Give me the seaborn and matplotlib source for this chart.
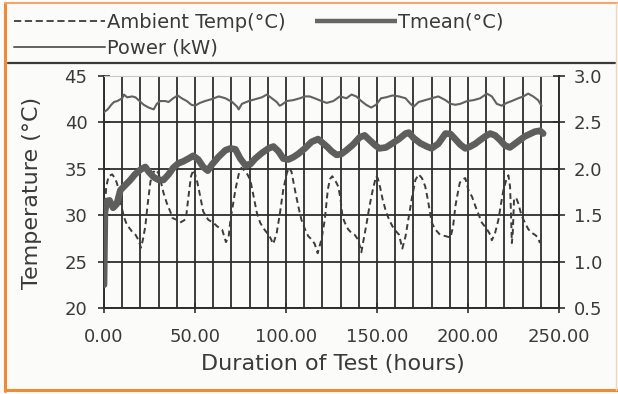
import matplotlib
matplotlib.use("Agg")
import matplotlib.pyplot as plt
from matplotlib.lines import Line2D
from matplotlib.ticker import MultipleLocator, FixedLocator, FormatStrFormatter
import seaborn as sns

# ---- measured series -------------------------------------------------------
# Electrical power of the unit (kW, right axis)
power_hours = [0, 2, 4, 5.5, 7.3, 10, 11, 12.7, 15.5, 17.3, 19, 21.8, 24.5, 27.3,
               29, 30.9, 33.6, 35.5, 38, 40.5, 42.7, 45.5, 48, 50, 52.7, 55.5, 59,
               63.1, 66.7, 70.4, 73.1, 74, 75.8, 79.5, 83.1, 86.7, 89.5, 92.2, 94.9,
               96.5, 97.6, 100.4, 104, 107.6, 110.4, 113, 115.8, 119.5, 122.4, 126,
               129.6, 133.2, 136, 138.6, 141.4, 144, 146.8, 149.5, 152.2, 154.9,
               158.5, 162, 165.7, 168.4, 170.2, 172.9, 176.5, 180, 183.7, 187.6,
               190.4, 193.1, 195.8, 199.5, 203.1, 206.7, 210.4, 213.1, 215.8, 218.5,
               221.3, 224, 227.6, 230.4, 233.1, 235.8, 238.5, 240.4]
power_kw = [2.61, 2.64, 2.69, 2.72, 2.73, 2.76, 2.80, 2.77, 2.78, 2.77, 2.74, 2.69,
            2.66, 2.64, 2.70, 2.73, 2.73, 2.72, 2.76, 2.79, 2.76, 2.73, 2.69, 2.68,
            2.71, 2.73, 2.75, 2.78, 2.76, 2.72, 2.67, 2.64, 2.70, 2.73, 2.75, 2.77,
            2.80, 2.76, 2.72, 2.68, 2.69, 2.73, 2.74, 2.76, 2.78, 2.78, 2.76, 2.73,
            2.71, 2.73, 2.78, 2.76, 2.80, 2.78, 2.73, 2.69, 2.66, 2.69, 2.76, 2.77,
            2.79, 2.78, 2.76, 2.70, 2.67, 2.72, 2.74, 2.76, 2.78, 2.74, 2.70, 2.69,
            2.70, 2.73, 2.74, 2.76, 2.81, 2.78, 2.70, 2.68, 2.71, 2.73, 2.76, 2.78,
            2.81, 2.78, 2.74, 2.68]

# Mean tank temperature (deg C, left axis)
tmean_hours = [0, 0.5, 1.5, 3, 5, 7, 9, 12, 14.5, 17, 20, 22.7, 24.5, 27.3, 30, 32.7,
               35.5, 38, 40.9, 43.6, 46.4, 49, 51.8, 54.5, 57, 59.5, 63, 66.7, 69.5,
               72.2, 74.9, 77.6, 80.4, 83.1, 86.7, 90.4, 93.1, 95.8, 98.5, 101.3, 104,
               106.7, 110.4, 114, 117.6, 120.4, 123, 125, 127.8, 130.5, 133.2, 136.8,
               140.5, 143.2, 145.9, 148.6, 151.3, 154.9, 158.5, 162, 165.7, 167.5,
               170.2, 173.8, 177.4, 180, 183.7, 187.6, 190.4, 193, 195.8, 198.5, 201.3,
               204, 206.7, 209.5, 212.2, 214.9, 217.6, 220.4, 223, 225.8, 228.5, 231.3,
               234, 236.7, 239.5, 241.3]
tmean_c = [22.5, 30.3, 31.5, 31.6, 30.8, 31.2, 32.7, 33.3, 33.8, 34.4, 34.9, 35.2,
           34.7, 34.1, 33.8, 33.8, 34.4, 35.1, 35.6, 35.8, 36.1, 36.4, 36.0, 35.2,
           34.8, 35.5, 36.3, 37.0, 37.2, 37.1, 36.1, 35.4, 35.5, 36.1, 36.7, 37.2,
           37.4, 36.9, 36.1, 36.0, 36.25, 36.6, 37.2, 37.9, 38.2, 37.75, 37.3, 36.9,
           36.5, 36.6, 37.0, 37.6, 38.4, 38.6, 38.1, 37.6, 37.2, 37.3, 37.75, 38.2,
           38.8, 38.9, 38.3, 37.75, 37.4, 37.2, 37.7, 38.8, 38.75, 38.2, 37.6, 37.2,
           37.4, 37.7, 38.1, 38.5, 38.8, 38.6, 38.1, 37.5, 37.3, 37.7, 38.1, 38.5,
           38.75, 39.0, 39.1, 38.8]

# Ambient air temperature (deg C, left axis)
ambient_hours = [0.3, 1.2, 2.5, 4.5, 6, 7, 8.2, 9.5, 11, 12.5, 14, 15.5, 17.3, 19,
                 20.3, 21.3, 22.7, 24, 25.5, 27, 28.5, 30, 31, 32.7, 34.5, 36.4, 37.6,
                 40, 41.8, 43.6, 45, 46.4, 47.8, 49.2, 51, 52.7, 54.5, 57.3, 60, 62.2,
                 65, 67, 68.5, 69.5, 70.4, 72.2, 74, 75.5, 76.7, 78.5, 80.4, 82.2, 84,
                 85.8, 87.6, 89.5, 91.3, 93, 94.9, 96.7, 98.5, 100.4, 101.6, 103, 104.9,
                 106.7, 108.5, 110.4, 112.2, 114, 115.8, 117.4, 119.5, 121.3, 123,
                 124.2, 125.4, 126.9, 128.7, 130, 131, 132.3, 134.1, 135.9, 137.7,
                 139.5, 140.5, 141.4, 142.3, 144, 145.9, 147.7, 149.5, 150.4, 151.6,
                 153.1, 154.9, 156.7, 158.5, 160.3, 162.1, 163.9, 165.7, 167.5, 169.3,
                 171.1, 172.9, 174.7, 176.5, 177.9, 179.2, 180.1, 181.9, 184.6, 187.6,
                 190.4, 191.8, 193.1, 194, 195.5, 196.7, 198.5, 200.4, 202.2, 204,
                 205.8, 207.6, 210.4, 212.2, 213.1, 214.9, 216.7, 218.2, 219.5, 221.3,
                 222.2, 223.1, 223.6, 224.1, 224.6, 225.3, 226.4, 227.6, 229.5, 231.3,
                 233.1, 235, 236.7, 238.5, 239.5]
ambient_c = [30.2, 33.0, 34.2, 34.4, 34.0, 33.5, 32.7, 31.0, 29.8, 29.0, 28.6, 28.2,
             27.9, 27.3, 26.5, 27.3, 28.8, 31.2, 33.6, 34.6, 34.9, 34.5, 33.8, 32.4,
             31.3, 30.4, 29.7, 29.5, 29.2, 29.4, 29.6, 32.0, 34.2, 34.9, 33.8, 32.2,
             30.4, 29.5, 29.2, 28.8, 28.4, 27.1, 27.7, 29.5, 30.6, 32.75, 34.4, 35.1,
             34.9, 34.5, 33.8, 32.0, 30.25, 29.2, 28.6, 28.1, 27.6, 26.9, 28.1, 30.25,
             32.75, 34.5, 35.1, 34.7, 32.75, 31.0, 29.5, 28.5, 27.75, 27.4, 26.9, 25.9,
             27.4, 29.5, 32.8, 33.9, 34.2, 33.8, 33.1, 31.7, 29.9, 29.2, 28.5, 28.1,
             27.9, 27.4, 26.7, 26.0, 27.0, 28.8, 31.0, 32.75, 34.2, 34.0, 33.1, 31.7,
             30.4, 29.5, 28.8, 28.3, 27.9, 26.4, 27.75, 29.9, 32.0, 33.8, 34.4, 34.0,
             33.1, 31.7, 30.25, 29.2, 28.5, 27.9, 27.75, 27.6, 28.8, 31.0, 32.0, 33.5,
             33.8, 34.0, 32.6, 32.0, 31.0, 30.1, 29.2, 28.5, 27.9, 27.3, 28.1, 29.5,
             31.3, 32.75, 34.0, 34.3, 33.1, 30.3, 27.0, 28.1, 31.7, 31.9, 31.3, 29.9,
             29.2, 28.5, 28.1, 27.9, 27.6, 27.0]

# ---- axis definitions ------------------------------------------------------
temp_ticks = [20, 25, 30, 35, 40, 45]
power_ticks = [0.5, 1.0, 1.5, 2.0, 2.5, 3.0]
hour_ticks = [0, 50, 100, 150, 200, 250]

LBL_AMB = "Ambient Temp(°C)"
LBL_TMEAN = "Tmean(°C)"
LBL_POWER = "Power (kW)"

# ---- styling ---------------------------------------------------------------
sns.set_theme(style="white")
plt.rcParams["font.family"] = ["DejaVu Sans", "Noto Sans"]

W, H = 618, 394
BG = "#fbfbf9"
INK = "#2e2e2e"
TXT = "#3a3a3a"
ORANGE = "#f08a35"
C_AMB = "#3c3c3c"
C_TMEAN = "#5e5e5e"
C_POWER = "#616161"


def fx(px):
    return px / W


def fy(py):
    return 1 - py / H


fig = plt.figure(figsize=(W / 100, H / 100), dpi=100)
fig.patch.set_facecolor(BG)

ax = fig.add_axes([fx(104), fy(308), (559 - 104) / W, (308 - 76) / H])
ax.set_facecolor(BG)
ax2 = ax.twinx()

# series
sns.lineplot(x=ambient_hours, y=ambient_c, ax=ax, color=C_AMB, linewidth=1.4,
             linestyle=(0, (3, 2)), estimator=None, errorbar=None, zorder=3)
sns.lineplot(x=tmean_hours, y=tmean_c, ax=ax, color=C_TMEAN, linewidth=4.8,
             estimator=None, errorbar=None, zorder=4)
sns.lineplot(x=power_hours, y=power_kw, ax=ax2, color=C_POWER, linewidth=1.5,
             estimator=None, errorbar=None, zorder=4)

# limits and ticks
ax.set_xlim(0, 250)
ax.set_ylim(20, 45)
ax2.set_ylim(0.5, 3.0)
ax.xaxis.set_major_locator(FixedLocator(hour_ticks))
ax.xaxis.set_minor_locator(MultipleLocator(10))
ax.yaxis.set_major_locator(FixedLocator(temp_ticks))
ax2.yaxis.set_major_locator(FixedLocator(power_ticks))
ax.xaxis.set_major_formatter(FormatStrFormatter("%.2f"))
ax.yaxis.set_major_formatter(FormatStrFormatter("%d"))
ax2.yaxis.set_major_formatter(FormatStrFormatter("%.1f"))

# grid: vertical every 10 h, horizontal every 5 deg C
ax.set_axisbelow(True)
ax.grid(True, which="both", axis="x", color=INK, linewidth=1.3)
ax.grid(True, which="major", axis="y", color=INK, linewidth=1.3)
ax.yaxis.get_major_ticks()[-1].gridline.set_visible(False)

ax.tick_params(axis="y", which="major", direction="inout", length=9, width=1.2,
               color=INK, pad=7.5, labelsize=13, labelcolor=TXT, left=True)
ax.tick_params(axis="x", which="major", direction="inout", length=7, width=1.2,
               color=INK, pad=11, labelsize=13, labelcolor=TXT, bottom=True)
ax.tick_params(axis="x", which="minor", length=0, bottom=False)
ax2.tick_params(axis="y", direction="inout", length=9, width=1.2, color=INK,
                pad=6, labelsize=13, labelcolor=TXT, right=True)

for name, sp in ax.spines.items():
    sp.set_color(INK)
    sp.set_linewidth(1.4)
ax.spines["right"].set_visible(False)
ax.spines["top"].set_color("#c8c8c8")
ax.spines["top"].set_linewidth(0.8)
for name, sp in ax2.spines.items():
    sp.set_visible(name == "right")
ax2.spines["right"].set_color(INK)
ax2.spines["right"].set_linewidth(1.4)

ax.set_xlabel("Duration of Test (hours)", fontsize=16, color=TXT)
ax.set_ylabel("Temperature (°C)", fontsize=16, color=TXT)
ax.xaxis.set_label_coords(0.503, -0.198)
ax.yaxis.set_label_coords(-0.137, 0.496)
ax2.set_ylabel("")

for a in (ax, ax2):
    lg = a.get_legend()
    if lg is not None:
        lg.remove()

# legend above the plot
h_amb = Line2D([], [], color=C_AMB, linewidth=1.3, linestyle=(0, (4, 2)))
h_pow = Line2D([], [], color=C_POWER, linewidth=1.4)
h_tmean = Line2D([], [], color="#666666", linewidth=3.2, solid_capstyle="butt")
leg_common = dict(loc="upper left", frameon=False, fontsize=14, borderpad=0,
                  borderaxespad=0, labelcolor=TXT)
leg1 = fig.legend([h_amb, h_pow], [LBL_AMB, LBL_POWER],
                  bbox_to_anchor=(fx(14), fy(13)), handlelength=4.7,
                  handletextpad=0.1, labelspacing=0.36, **leg_common)
leg2 = fig.legend([h_tmean], [LBL_TMEAN], bbox_to_anchor=(fx(315), fy(13)),
                  handlelength=4.2, handletextpad=0.05, **leg_common)

# rule under the legend and the page frame
fig.add_artist(Line2D([fx(8), fx(615)], [fy(63), fy(63)], transform=fig.transFigure,
                      color="#3a3a3a", linewidth=1.6))
fig.add_artist(Line2D([fx(5), fx(5)], [fy(3), fy(391)], transform=fig.transFigure,
                      color=ORANGE, linewidth=2.2))
fig.add_artist(Line2D([fx(5), fx(618)], [fy(3), fy(3)], transform=fig.transFigure,
                      color="#f4a664", linewidth=1.5))
fig.add_artist(Line2D([fx(5), fx(618)], [fy(390), fy(390)], transform=fig.transFigure,
                      color=ORANGE, linewidth=2.2))
fig.add_artist(Line2D([fx(616), fx(616)], [fy(3), fy(390)], transform=fig.transFigure,
                      color="#f7d3b3", linewidth=1.0))

fig.savefig("out.png", dpi=100, facecolor=BG)
